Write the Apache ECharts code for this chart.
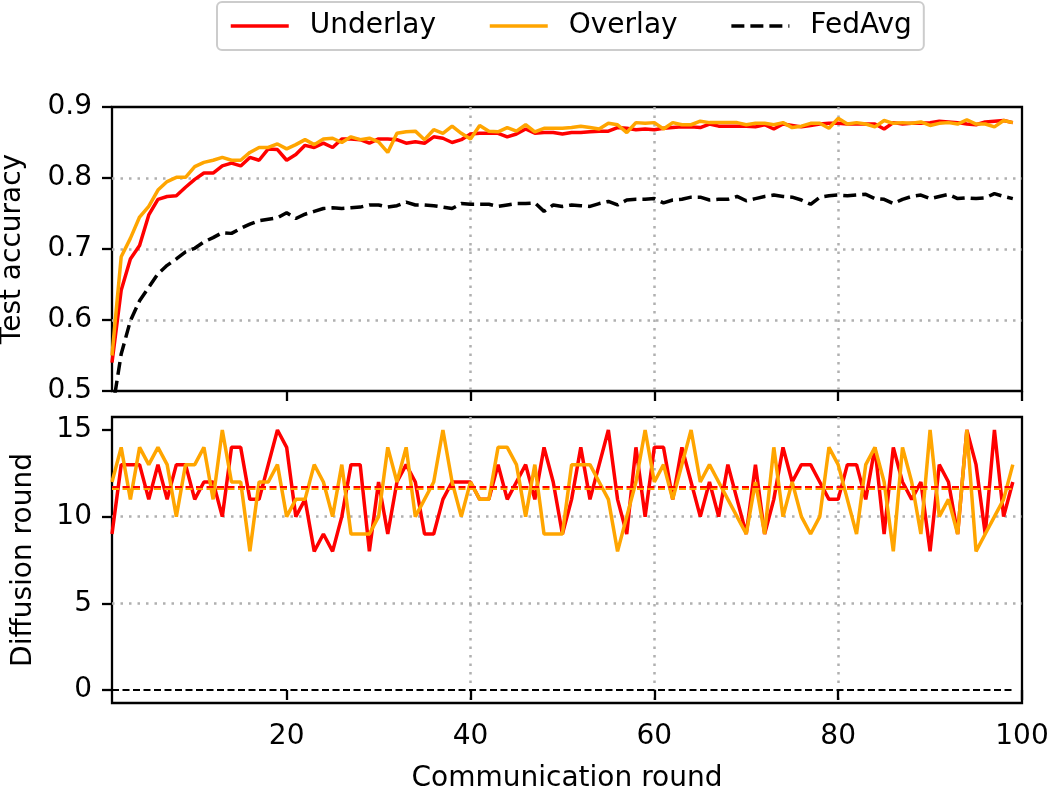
<!DOCTYPE html>
<html>
<head>
<meta charset="utf-8">
<script src="https://cdn.jsdelivr.net/npm/echarts@6/dist/echarts.min.js"></script>
<style>
  html, body { margin: 0; padding: 0; background: #fff; }
  #chart { width: 1055px; height: 794px; }
</style>
</head>
<body>
<div id="chart"></div>
<script>
// communication rounds 1..99
var rounds = [];
for (var r = 1; r <= 99; r++) rounds.push(r);

var accUnderlay = [
  0.540, 0.642, 0.686, 0.705, 0.748, 0.770, 0.774, 0.775, 0.787, 0.798,
  0.807, 0.807, 0.817, 0.821, 0.817, 0.829, 0.825, 0.841, 0.840, 0.825,
  0.833, 0.846, 0.843, 0.849, 0.843, 0.855, 0.855, 0.854, 0.849, 0.855,
  0.855, 0.854, 0.849, 0.851, 0.849, 0.858, 0.856, 0.850, 0.854, 0.862,
  0.863, 0.863, 0.863, 0.858, 0.862, 0.869, 0.863, 0.864, 0.864, 0.862,
  0.864, 0.864, 0.865, 0.866, 0.866, 0.871, 0.870, 0.868, 0.869, 0.868,
  0.870, 0.871, 0.872, 0.872, 0.871, 0.876, 0.873, 0.873, 0.873, 0.873,
  0.872, 0.875, 0.869, 0.876, 0.874, 0.872, 0.874, 0.876, 0.877, 0.877,
  0.876, 0.876, 0.876, 0.876, 0.869, 0.878, 0.876, 0.877, 0.877, 0.878,
  0.880, 0.879, 0.878, 0.876, 0.875, 0.879, 0.880, 0.881, 0.878
];
var accOverlay = [
  0.550, 0.689, 0.715, 0.745, 0.760, 0.783, 0.795, 0.801, 0.801, 0.816,
  0.822, 0.825, 0.829, 0.825, 0.825, 0.836, 0.843, 0.843, 0.848, 0.841,
  0.847, 0.854, 0.847, 0.855, 0.856, 0.850, 0.858, 0.854, 0.856, 0.851,
  0.836, 0.863, 0.865, 0.866, 0.854, 0.868, 0.863, 0.873, 0.863, 0.855,
  0.874, 0.866, 0.865, 0.871, 0.866, 0.875, 0.865, 0.870, 0.870, 0.870,
  0.871, 0.873, 0.871, 0.869, 0.877, 0.875, 0.864, 0.878, 0.877, 0.878,
  0.869, 0.878, 0.875, 0.875, 0.880, 0.878, 0.878, 0.878, 0.878, 0.875,
  0.877, 0.877, 0.875, 0.878, 0.871, 0.873, 0.877, 0.877, 0.870, 0.884,
  0.876, 0.878, 0.876, 0.872, 0.881, 0.877, 0.878, 0.877, 0.879, 0.874,
  0.877, 0.878, 0.876, 0.882, 0.876, 0.876, 0.872, 0.881, 0.878
];
var accFedAvg = [
  0.470, 0.552, 0.599, 0.627, 0.646, 0.665, 0.677, 0.686, 0.696, 0.701,
  0.710, 0.716, 0.723, 0.722, 0.729, 0.735, 0.740, 0.742, 0.744, 0.751,
  0.743, 0.749, 0.753, 0.757, 0.758, 0.757, 0.758, 0.759, 0.762, 0.762,
  0.759, 0.761, 0.766, 0.762, 0.762, 0.761, 0.759, 0.757, 0.764, 0.763,
  0.763, 0.763, 0.760, 0.762, 0.764, 0.764, 0.765, 0.753, 0.762, 0.760,
  0.762, 0.761, 0.760, 0.764, 0.767, 0.762, 0.769, 0.770, 0.770, 0.771,
  0.765, 0.769, 0.770, 0.773, 0.773, 0.769, 0.770, 0.770, 0.774, 0.768,
  0.771, 0.774, 0.776, 0.774, 0.773, 0.769, 0.763, 0.773, 0.775, 0.776,
  0.775, 0.776, 0.777, 0.771, 0.770, 0.764, 0.770, 0.774, 0.776, 0.771,
  0.774, 0.777, 0.771, 0.772, 0.771, 0.772, 0.778, 0.774, 0.771
];

var diffUnderlay = [
  9, 13, 13, 13, 11, 13, 11, 13, 13, 11,
  12, 12, 10, 14, 14, 11, 11, 13, 15, 14,
  10, 11, 8, 9, 8, 10, 13, 13, 8, 12,
  9, 12, 13, 12, 9, 9, 11, 12, 12, 12,
  11, 11, 13, 11, 12, 13, 11, 14, 12, 9,
  11, 14, 11, 13, 15, 11, 9, 14, 10, 14,
  14, 11, 14, 12, 10, 12, 10, 13, 11, 9,
  13, 9, 11, 14, 12, 13, 13, 12, 11, 11,
  13, 13, 11, 14, 9, 14, 12, 11, 12, 8,
  13, 12, 9, 15, 13, 9, 15, 10, 12
];
var diffOverlay = [
  12, 14, 11, 14, 13, 14, 13, 10, 13, 13,
  14, 11, 15, 12, 12, 8, 12, 12, 13, 10,
  11, 11, 13, 12, 10, 13, 9, 9, 9, 10,
  14, 12, 14, 10, 11, 12, 15, 12, 10, 12,
  11, 11, 14, 14, 13, 10, 13, 9, 9, 9,
  13, 13, 13, 12, 11, 8, 10, 12, 15, 12,
  13, 11, 13, 15, 12, 13, 12, 11, 10, 9,
  12, 9, 14, 10, 12, 10, 9, 10, 14, 13,
  11, 9, 13, 14, 12, 8, 14, 12, 9, 15,
  10, 11, 9, 15, 8, 9, 10, 11, 13
];
var diffFedAvg = 0;
var meanUnderlay = 11.7;
var meanOverlay = 11.6;

var xTicks = [20, 40, 60, 80, 100];
var accTicks = [0.5, 0.6, 0.7, 0.8, 0.9];
var diffTicks = [0, 5, 10, 15];

function pairs(values) {
  return values.map(function (v, i) { return [rounds[i], v]; });
}

var font = 'DejaVu Sans';
var fs = 28;
var gridLine = { show: true, showMinLine: false, showMaxLine: false,
  lineStyle: { color: '#b0b0b0', width: 2.5, type: [2.5, 6] } };
var tick = { show: true, length: 10, lineStyle: { color: '#000', width: 2.3 } };
var label = { color: '#000', fontSize: fs, fontFamily: font, margin: 20 };
var nameStyle = { color: '#000', fontSize: fs, fontFamily: font };

var chart = echarts.init(document.getElementById('chart'), null, { renderer: 'canvas' });

var option = {
  animation: false,
  backgroundColor: '#fff',
  legend: {
    top: 2,
    left: 217,
    data: ['Underlay', 'Overlay', 'FedAvg'],
    itemWidth: 58,
    itemHeight: 14,
    itemGap: 52,
    padding: [10, 12],
    borderColor: '#cccccc',
    borderWidth: 2,
    borderRadius: 5,
    itemStyle: { opacity: 0 },
    lineStyle: { width: 3.5 },
    textStyle: { color: '#000', fontSize: fs, fontFamily: font, padding: [0, 0, 0, 16] }
  },
  grid: [
    { left: 112, top: 107, width: 910, height: 284, outerBoundsMode: 'none', containLabel: false,
      show: true, borderColor: '#000', borderWidth: 2.3, backgroundColor: 'transparent' },
    { left: 112, top: 417, width: 910, height: 286, outerBoundsMode: 'none', containLabel: false,
      show: true, borderColor: '#000', borderWidth: 2.3, backgroundColor: 'transparent' }
  ],
  xAxis: [
    {
      gridIndex: 0, type: 'value', min: 1, max: 100,
      axisLine: { show: false },
      axisTick: Object.assign({ customValues: xTicks }, tick),
      axisLabel: { show: false, customValues: xTicks },
      splitLine: gridLine
    },
    {
      gridIndex: 1, type: 'value', min: 1, max: 100,
      axisLine: { show: false },
      axisTick: Object.assign({ customValues: xTicks }, tick),
      axisLabel: Object.assign({ customValues: xTicks }, label),
      splitLine: gridLine,
      name: 'Communication round',
      nameLocation: 'middle',
      nameGap: 62,
      nameTextStyle: nameStyle
    }
  ],
  yAxis: [
    {
      gridIndex: 0, type: 'value', min: 0.5, max: 0.9,
      axisLine: { show: false },
      axisTick: Object.assign({ customValues: accTicks }, tick),
      axisLabel: Object.assign({ customValues: accTicks, formatter: function (v) { return v.toFixed(1); } }, label),
      splitLine: gridLine,
      name: 'Test accuracy',
      nameLocation: 'middle',
      nameGap: 85,
      nameTextStyle: nameStyle
    },
    {
      gridIndex: 1, type: 'value', min: -0.75, max: 15.75,
      axisLine: { show: false },
      axisTick: Object.assign({ customValues: diffTicks }, tick),
      axisLabel: Object.assign({ customValues: diffTicks }, label),
      splitLine: gridLine,
      name: 'Diffusion round',
      nameLocation: 'middle',
      nameGap: 74,
      nameTextStyle: nameStyle
    }
  ],
  series: [
    {
      name: 'Underlay', type: 'line', xAxisIndex: 0, yAxisIndex: 0,
      symbol: 'none', data: pairs(accUnderlay),
      lineStyle: { color: '#ff0000', width: 3.5 }, itemStyle: { color: '#ff0000' }
    },
    {
      name: 'Overlay', type: 'line', xAxisIndex: 0, yAxisIndex: 0,
      symbol: 'none', data: pairs(accOverlay),
      lineStyle: { color: '#ffa500', width: 3.5 }, itemStyle: { color: '#ffa500' }
    },
    {
      name: 'FedAvg', type: 'line', xAxisIndex: 0, yAxisIndex: 0,
      symbol: 'none', data: pairs(accFedAvg),
      lineStyle: { color: '#000', width: 3.5, type: [13, 6] }, itemStyle: { color: '#000' }
    },
    {
      name: 'Underlay', type: 'line', xAxisIndex: 1, yAxisIndex: 1,
      symbol: 'none', data: pairs(diffUnderlay),
      lineStyle: { color: '#ff0000', width: 3.5 }, itemStyle: { color: '#ff0000' },
      markLine: {
        silent: true, symbol: 'none', label: { show: false },
        lineStyle: { color: '#ff0000', width: 2, type: [7, 3.5] },
        data: [[{ coord: [rounds[0], meanUnderlay] }, { coord: [rounds[rounds.length - 1], meanUnderlay] }]]
      }
    },
    {
      name: 'Overlay', type: 'line', xAxisIndex: 1, yAxisIndex: 1,
      symbol: 'none', data: pairs(diffOverlay),
      lineStyle: { color: '#ffa500', width: 3.5 }, itemStyle: { color: '#ffa500' },
      markLine: {
        silent: true, symbol: 'none', label: { show: false },
        lineStyle: { color: '#ffa500', width: 2, type: [7, 3.5] },
        data: [[{ coord: [rounds[0], meanOverlay] }, { coord: [rounds[rounds.length - 1], meanOverlay] }]]
      }
    },
    {
      name: 'FedAvg', type: 'line', xAxisIndex: 1, yAxisIndex: 1,
      symbol: 'none', data: [],
      lineStyle: { color: '#000', width: 3.5, type: [13, 6] }, itemStyle: { color: '#000' },
      markLine: {
        silent: true, symbol: 'none', label: { show: false },
        lineStyle: { color: '#000', width: 2, type: [7, 3.5] },
        data: [[{ coord: [rounds[0], diffFedAvg] }, { coord: [rounds[rounds.length - 1], diffFedAvg] }]]
      }
    }
  ]
};

chart.setOption(option);
</script>
</body>
</html>
